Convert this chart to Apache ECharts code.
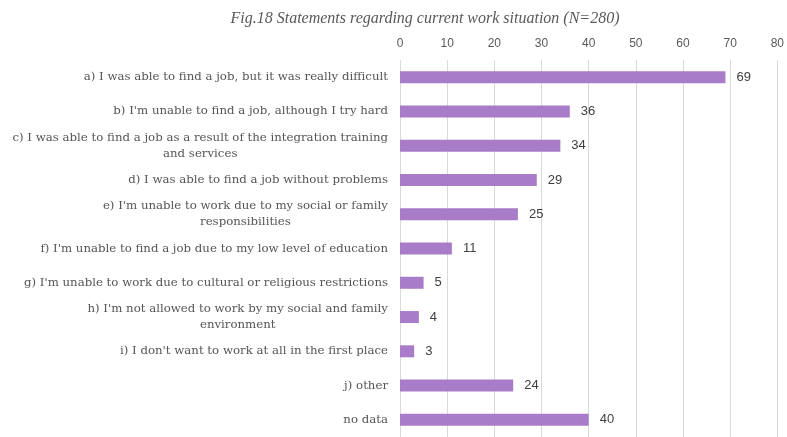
<!DOCTYPE html>
<html><head><meta charset="utf-8">
<script src="https://cdn.jsdelivr.net/npm/echarts@6/dist/echarts.min.js"></script>
<style>html,body{margin:0;padding:0;background:#fff}#c{width:787px;height:437px}</style>
</head><body><div id="c"></div>
<script>
const categories = [
  "a) I was able to find a job, but it was really difficult",
  "b) I'm unable to find a job, although I try hard",
  "c) I was able to find a job as a result of the integration training\nand services",
  "d) I was able to find a job without problems",
  "e) I'm unable to work due to my social or family\nresponsibilities",
  "f) I'm unable to find a job due to my low level of education",
  "g) I'm unable to work due to cultural or religious restrictions",
  "h) I'm not allowed to work by my social and family\nenvironment",
  "i) I don't want to work at all in the first place",
  "j) other",
  "no data"
];
const values = [69, 36, 34, 29, 25, 11, 5, 4, 3, 24, 40];
const ticks = [0, 10, 20, 30, 40, 50, 60, 70, 80];
const titleText = "Fig.18 Statements regarding current work situation (N=280)";

const chart = echarts.init(document.getElementById('c'));
chart.setOption({
  animation: false,
  title: {
    text: titleText, left: 420, top: 6, textAlign: 'center',
    textStyle: { fontFamily: 'Liberation Serif', fontStyle: 'italic', fontWeight: 'normal', fontSize: 16, color: '#595959' }
  },
  grid: { left: 400, right: 6, top: 60, bottom: 0, containLabel: false },
  xAxis: {
    type: 'value', position: 'top', min: ticks[0], max: ticks[ticks.length-1], interval: 10,
    axisLine: { show: false }, axisTick: { show: false },
    axisLabel: { color: '#595959', fontFamily: 'Liberation Sans Narrow, Liberation Sans', fontSize: 12, margin: 10 },
    splitLine: { lineStyle: { color: '#d9d9d9', width: 1 } }
  },
  yAxis: {
    type: 'category', inverse: true, data: categories,
    axisLine: { show: false }, axisTick: { show: false },
    axisLabel: {
      color: '#555555', fontFamily: 'DejaVu Serif', fontSize: 11.75, margin: 12, lineHeight: 16,
      formatter: v => v.split('\n').map(s => '{c|' + s + '}').join('\n'),
      rich: { c: { align: 'center', fontFamily: 'DejaVu Serif', fontSize: 11.75, color: '#555555', lineHeight: 16 } }
    }
  },
  series: [{
    type: 'bar', data: values, barWidth: 12,
    itemStyle: { color: '#a87cc8' },
    label: { show: true, position: 'right', distance: 11, color: '#404040', fontFamily: 'Liberation Sans', fontSize: 13 }
  }]
});
</script></body></html>
